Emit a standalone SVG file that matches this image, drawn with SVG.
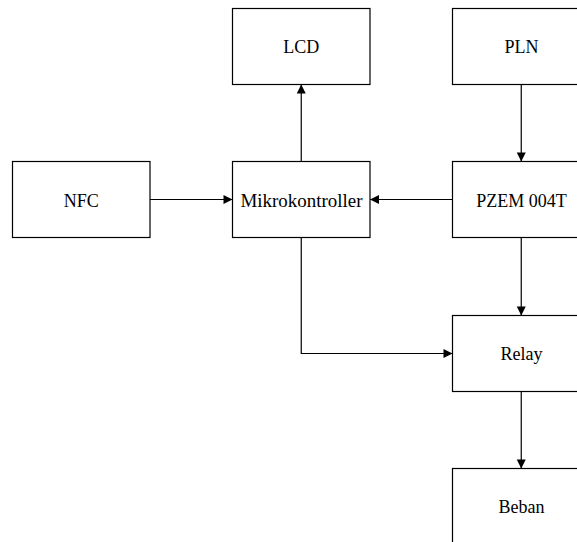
<svg xmlns="http://www.w3.org/2000/svg" width="577" height="542" viewBox="0 0 577 542">
<style>
.box{fill:#fff;stroke:#000;stroke-width:1.2}
.lbl{font-family:'Liberation Serif','Times New Roman',Times,'DejaVu Serif',serif;font-size:18px;fill:#000;text-anchor:middle}
.conn{fill:none;stroke:#000;stroke-width:1.2}
</style>
<defs>
<marker id="arr" markerWidth="12" markerHeight="12" refX="10" refY="6" orient="auto" markerUnits="userSpaceOnUse">
<path d="M1,1.5 L10,6 L1,10.5 Z" fill="#000"/>
</marker>
</defs>
<rect width="577" height="542" fill="#fff"/>
<g id="connectors">
<path class="conn" d="M301.25,161.5 L301.25,84.5" marker-end="url(#arr)"/>
<path class="conn" d="M521.25,84.5 L521.25,161.5" marker-end="url(#arr)"/>
<path class="conn" d="M150,199.5 L232.5,199.5" marker-end="url(#arr)"/>
<path class="conn" d="M452.5,199.5 L370,199.5" marker-end="url(#arr)"/>
<path class="conn" d="M521.25,237.5 L521.25,315.5" marker-end="url(#arr)"/>
<path class="conn" d="M301.25,237.5 L301.25,353.5 L452.5,353.5" marker-end="url(#arr)"/>
<path class="conn" d="M521.25,391.5 L521.25,468.5" marker-end="url(#arr)"/>
</g>
<g id="lcd"><rect class="box" x="232.5" y="8.5" width="137.5" height="76"/><text class="lbl" font-family="Liberation Serif, serif" x="301.25" y="53">LCD</text></g>
<g id="pln"><rect class="box" x="452.5" y="8.5" width="137.5" height="76"/><text class="lbl" font-family="Liberation Serif, serif" x="521.5" y="53">PLN</text></g>
<g id="nfc"><rect class="box" x="12.5" y="161.5" width="137.5" height="76"/><text class="lbl" font-family="Liberation Serif, serif" x="81.25" y="206.5">NFC</text></g>
<g id="mikrokontroller"><rect class="box" x="232.5" y="161.5" width="137.5" height="76"/><text class="lbl" font-family="Liberation Serif, serif" x="301.5" y="206.5" textLength="122" lengthAdjust="spacingAndGlyphs">Mikrokontroller</text></g>
<g id="pzem"><rect class="box" x="452.5" y="161.5" width="137.5" height="76"/><text class="lbl" font-family="Liberation Serif, serif" x="521.5" y="206.5">PZEM 004T</text></g>
<g id="relay"><rect class="box" x="452.5" y="315.5" width="137.5" height="76"/><text class="lbl" font-family="Liberation Serif, serif" x="521.5" y="360">Relay</text></g>
<g id="beban"><rect class="box" x="452.5" y="468.5" width="137.5" height="76"/><text class="lbl" font-family="Liberation Serif, serif" x="521.5" y="513">Beban</text></g>
</svg>
